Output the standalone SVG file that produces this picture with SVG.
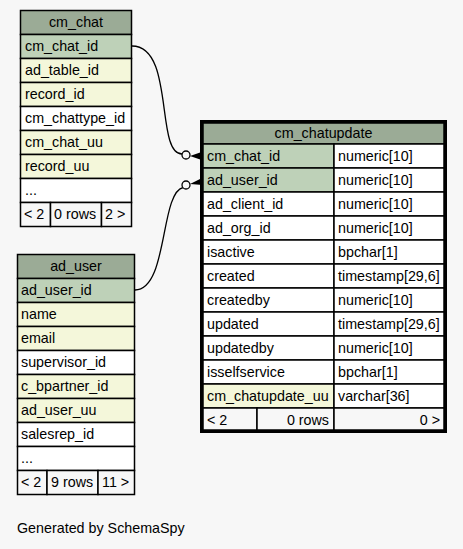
<svg xmlns="http://www.w3.org/2000/svg" width="463" height="549" viewBox="0 0 463 549">
<style>
text{font-family:"Liberation Sans",Arial,sans-serif;font-size:14.3px;fill:#000}
.c{stroke:#000;stroke-width:1.5}
.h{fill:#9bab96}
.pk{fill:#bed1b8}
.ix{fill:#f4f7da}
.w{fill:#ffffff}
.f{fill:#f7f7f7}
.mid{text-anchor:middle}
.end{text-anchor:end}
.edge{fill:none;stroke:#000;stroke-width:1.3}
</style>
<rect width="463" height="549" fill="#f7f7f7"/>
<g id="connectors">
<path class="edge" d="M132,46 C175,46 155,154 182,154"/>
<circle cx="186" cy="155" r="4" fill="#f7f7f7" stroke="#000" stroke-width="1.3"/>
<polygon points="190,156 203,151.5 200.5,156 203,160.5" fill="#000"/>
<path class="edge" d="M135,290 C168,290 160,193 183,187.5"/>
<circle cx="186" cy="185" r="4" fill="#f7f7f7" stroke="#000" stroke-width="1.3"/>
<polygon points="190,184 203,177.5 200.5,181.5 203,185" fill="#000"/>
</g>
<g id="cm_chat">
<rect class="c h" x="20.5" y="10.5" width="111" height="24"/>
<text class="mid" x="76" y="27">cm_chat</text>
<rect class="c pk" x="20.5" y="34.5" width="111" height="24"/>
<text x="25" y="51">cm_chat_id</text>
<rect class="c ix" x="20.5" y="58.5" width="111" height="24"/>
<text x="25" y="75">ad_table_id</text>
<rect class="c ix" x="20.5" y="82.5" width="111" height="24"/>
<text x="25" y="99">record_id</text>
<rect class="c w" x="20.5" y="106.5" width="111" height="24"/>
<text x="25" y="123">cm_chattype_id</text>
<rect class="c ix" x="20.5" y="130.5" width="111" height="24"/>
<text x="25" y="147">cm_chat_uu</text>
<rect class="c ix" x="20.5" y="154.5" width="111" height="24"/>
<text x="25" y="171">record_uu</text>
<rect class="c w" x="20.5" y="178.5" width="111" height="24"/>
<text x="25" y="195">...</text>
<rect class="c f" x="20.5" y="202.5" width="30" height="24"/>
<rect class="c f" x="50.5" y="202.5" width="51" height="24"/>
<rect class="c f" x="101.5" y="202.5" width="30" height="24"/>
<text x="24" y="219">&lt; 2</text>
<text x="54" y="219">0 rows</text>
<text x="105" y="219">2 &gt;</text>
</g>
<g id="ad_user">
<rect class="c h" x="17.5" y="254.5" width="117" height="24"/>
<text class="mid" x="76" y="271">ad_user</text>
<rect class="c pk" x="17.5" y="278.5" width="117" height="24"/>
<text x="21" y="295">ad_user_id</text>
<rect class="c ix" x="17.5" y="302.5" width="117" height="24"/>
<text x="21" y="319">name</text>
<rect class="c ix" x="17.5" y="326.5" width="117" height="24"/>
<text x="21" y="343">email</text>
<rect class="c w" x="17.5" y="350.5" width="117" height="24"/>
<text x="21" y="367">supervisor_id</text>
<rect class="c ix" x="17.5" y="374.5" width="117" height="24"/>
<text x="21" y="391">c_bpartner_id</text>
<rect class="c ix" x="17.5" y="398.5" width="117" height="24"/>
<text x="21" y="415">ad_user_uu</text>
<rect class="c w" x="17.5" y="422.5" width="117" height="24"/>
<text x="21" y="439">salesrep_id</text>
<rect class="c w" x="17.5" y="446.5" width="117" height="24"/>
<text x="21" y="463">...</text>
<rect class="c f" x="17.5" y="470.5" width="29.5" height="24"/>
<rect class="c f" x="47" y="470.5" width="51" height="24"/>
<rect class="c f" x="98" y="470.5" width="36.5" height="24"/>
<text x="21" y="487">&lt; 2</text>
<text x="51" y="487">9 rows</text>
<text x="102" y="487">11 &gt;</text>
</g>
<g id="cm_chatupdate">
<rect x="201.5" y="121.5" width="244" height="310" fill="#fff" stroke="#000" stroke-width="3"/>
<rect class="c h" x="203" y="123" width="241" height="21"/>
<text class="mid" x="323.5" y="138">cm_chatupdate</text>
<rect class="c pk" x="203" y="144" width="131" height="24"/><rect class="c w" x="334" y="144" width="110" height="24"/>
<text x="207" y="161">cm_chat_id</text><text x="338" y="161">numeric[10]</text>
<rect class="c pk" x="203" y="168" width="131" height="24"/><rect class="c w" x="334" y="168" width="110" height="24"/>
<text x="207" y="185">ad_user_id</text><text x="338" y="185">numeric[10]</text>
<rect class="c w" x="203" y="192" width="131" height="24"/><rect class="c w" x="334" y="192" width="110" height="24"/>
<text x="207" y="209">ad_client_id</text><text x="338" y="209">numeric[10]</text>
<rect class="c w" x="203" y="216" width="131" height="24"/><rect class="c w" x="334" y="216" width="110" height="24"/>
<text x="207" y="233">ad_org_id</text><text x="338" y="233">numeric[10]</text>
<rect class="c w" x="203" y="240" width="131" height="24"/><rect class="c w" x="334" y="240" width="110" height="24"/>
<text x="207" y="257">isactive</text><text x="338" y="257">bpchar[1]</text>
<rect class="c w" x="203" y="264" width="131" height="24"/><rect class="c w" x="334" y="264" width="110" height="24"/>
<text x="207" y="281">created</text><text x="338" y="281">timestamp[29,6]</text>
<rect class="c w" x="203" y="288" width="131" height="24"/><rect class="c w" x="334" y="288" width="110" height="24"/>
<text x="207" y="305">createdby</text><text x="338" y="305">numeric[10]</text>
<rect class="c w" x="203" y="312" width="131" height="24"/><rect class="c w" x="334" y="312" width="110" height="24"/>
<text x="207" y="329">updated</text><text x="338" y="329">timestamp[29,6]</text>
<rect class="c w" x="203" y="336" width="131" height="24"/><rect class="c w" x="334" y="336" width="110" height="24"/>
<text x="207" y="353">updatedby</text><text x="338" y="353">numeric[10]</text>
<rect class="c w" x="203" y="360" width="131" height="24"/><rect class="c w" x="334" y="360" width="110" height="24"/>
<text x="207" y="377">isselfservice</text><text x="338" y="377">bpchar[1]</text>
<rect class="c ix" x="203" y="384" width="131" height="24"/><rect class="c w" x="334" y="384" width="110" height="24"/>
<text x="207" y="401">cm_chatupdate_uu</text><text x="338" y="401">varchar[36]</text>
<rect class="c f" x="203" y="408" width="54" height="22"/><rect class="c f" x="257" y="408" width="77" height="22"/><rect class="c f" x="334" y="408" width="110" height="22"/>
<text x="207" y="425">&lt; 2</text>
<text class="end" x="329" y="425">0 rows</text>
<text class="end" x="440" y="425">0 &gt;</text>
</g>
<text x="17" y="533">Generated by SchemaSpy</text>
</svg>
